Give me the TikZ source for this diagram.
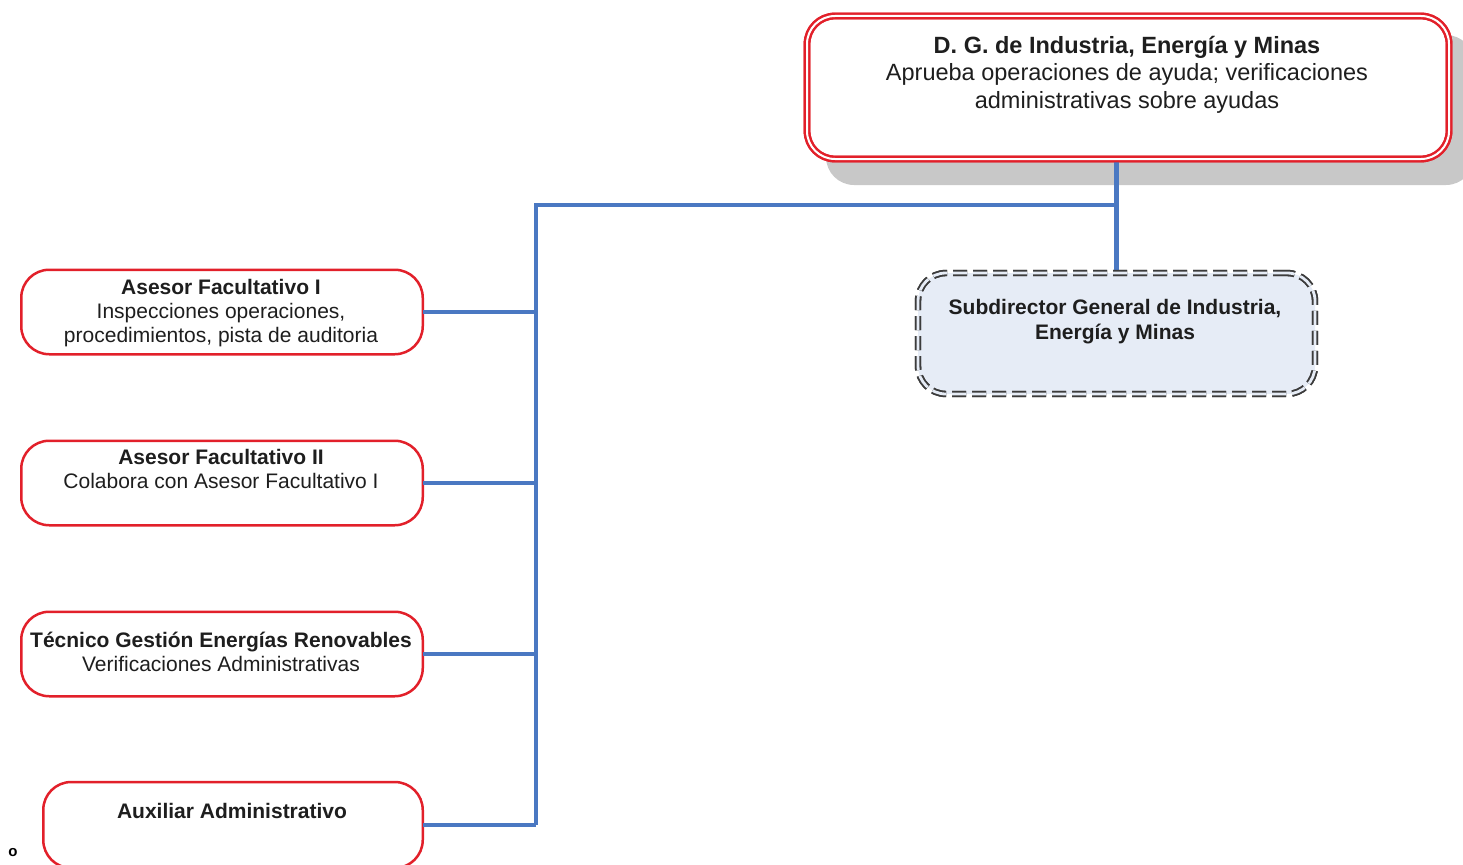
\documentclass[tikz,border=0pt]{standalone}
\usepackage{fontspec}
\setmainfont{Liberation Sans}
\definecolor{boxred}{RGB}{226,32,42}
\definecolor{linkblue}{RGB}{74,120,194}
\definecolor{subfill}{RGB}{230,236,246}
\definecolor{dashgray}{RGB}{60,60,60}
\definecolor{shadowgray}{RGB}{200,200,200}
\definecolor{txt}{RGB}{30,30,30}
\begin{document}
\begin{tikzpicture}[x=1pt,y=-1pt,
  every node/.style={inner sep=0pt, outer sep=0pt},
  redbox/.style={rectangle, draw=boxred, line width=2.5pt, rounded corners=28pt,
    fill=white, minimum height=84.5pt},
  topbox/.style={rectangle, draw=boxred, line width=2.4pt, double=white,
    double distance=2pt, rounded corners=28pt, fill=white,
    minimum width=642pt, minimum height=143pt},
  shadowbox/.style={rectangle, fill=shadowgray, rounded corners=28pt,
    minimum width=648pt, minimum height=150pt},
  subbox/.style={rectangle, draw=dashgray, line width=1.8pt, double=subfill,
    double distance=2.8pt, dash pattern=on 14pt off 6pt, rounded corners=28pt,
    minimum width=397pt, minimum height=121pt},
  link/.style={draw=linkblue, line width=4.5pt},
  bigtext/.style={text=txt, align=center, anchor=base,
    font=\fontsize{23.5}{27.5}\selectfont},
  boxtext/.style={text=txt, align=center, anchor=base,
    font=\fontsize{21}{24}\selectfont},
]
\useasboundingbox (0,0) rectangle (1463,864);
\clip (0,0) rectangle (1463,864);

% boxes
\coordinate (bus) at (536,205);
\node[shadowbox] (dgshadow) at (1150,110) {};
\node[topbox] (dg) at (1128,87.5) {};
\node[subbox, fill=subfill] (sub) at (1116.5,333.5) {};
\node[redbox, minimum width=401.5pt] (af1) at (222,312) {};
\node[redbox, minimum width=401.5pt] (af2) at (222,483) {};
\node[redbox, minimum width=401.5pt] (tec) at (222,654) {};
\node[redbox, minimum width=379.5pt, minimum height=86pt] (aux) at (233,825) {};

% connectors
\draw[link] (sub.north) -- (sub.north |- dg.south);
\draw[link] (sub.north |- bus) -- (bus) -- (bus |- aux.east);
\foreach \b in {af1,af2,tec,aux}
  \draw[link] (\b.east) -- (\b.east -| bus);

% outlines over the connector ends
\draw[boxred, line width=2.4pt, double=white, double distance=2pt, rounded corners=28pt]
  (dg.north west) rectangle (dg.south east);
\node[subbox] at (sub) {};

% texts (anchored at the baseline of the last line)
\node[bigtext] (dgtext) at (1127,108.5)
  {\textbf{D. G. de Industria, Energía y Minas}\\
   Aprueba operaciones de ayuda; verificaciones\\
   administrativas sobre ayudas};
\node[boxtext, font=\fontsize{21}{25}\selectfont\bfseries] (subtext) at (1115,339.5)
  {Subdirector General de Industria,\\ Energía y Minas};
\node[boxtext] (af1text) at (221,342.5)
  {\textbf{Asesor Facultativo I}\\ Inspecciones operaciones,\\ procedimientos, pista de auditoria};
\node[boxtext] (af2text) at (221,488.5)
  {\textbf{Asesor Facultativo II}\\ Colabora con Asesor Facultativo I};
\node[boxtext] (tectext) at (221,671.5)
  {\textbf{Técnico Gestión Energías Renovables}\\ Verificaciones Administrativas};
\node[boxtext] (auxtext) at (232,818.5) {\textbf{Auxiliar Administrativo}};

\node[anchor=base, text=black, font=\fontsize{15}{18}\selectfont\rmfamily\bfseries]
  (mark) at (13,856) {o};
\end{tikzpicture}
\end{document}
